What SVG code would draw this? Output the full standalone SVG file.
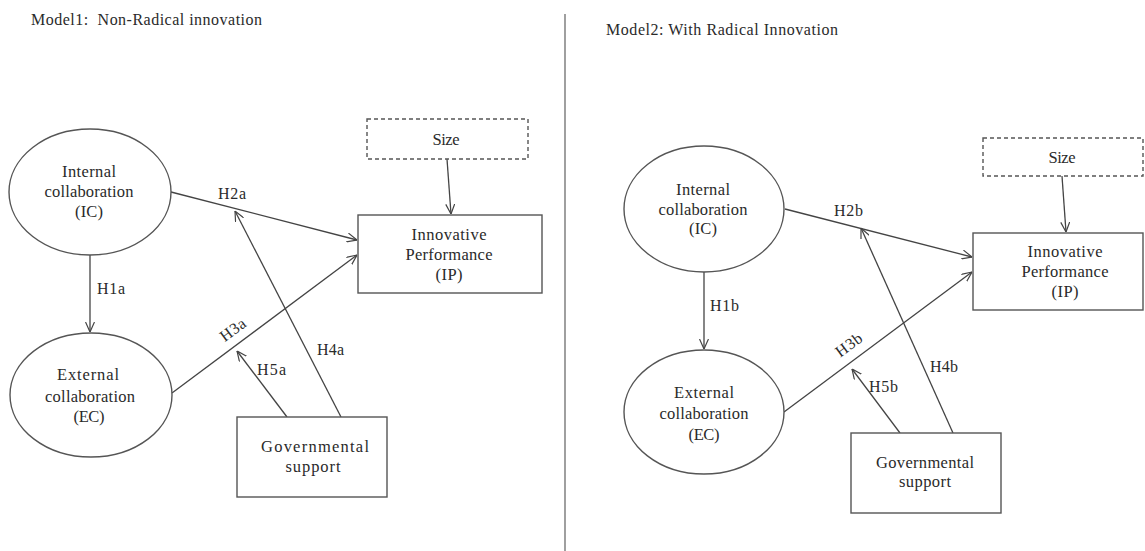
<svg xmlns="http://www.w3.org/2000/svg" width="1145" height="551" viewBox="0 0 1145 551">
  <defs>
    <marker id="arrow" viewBox="0 0 10 10" refX="10" refY="5" markerWidth="10" markerHeight="10" markerUnits="userSpaceOnUse" orient="auto">
      <path d="M0,0.5 L10,5 L0,9.5" fill="none" stroke="#444" stroke-width="1.2"/>
    </marker>
    <style>
      .shape { fill: #fff; stroke: #555; stroke-width: 1.4; }
      .dashed { fill: #fff; stroke: #555; stroke-width: 1.4; stroke-dasharray: 4 3; }
      .edge { fill: none; stroke: #444; stroke-width: 1.3; marker-end: url(#arrow); }
      .t { font-family: "Liberation Serif", "Times New Roman", serif; font-size: 16.5px; fill: #2a2a2a; text-anchor: middle; }
      .lbl { font-family: "Liberation Serif", "Times New Roman", serif; font-size: 16px; fill: #2a2a2a; }
      .title { font-family: "Liberation Serif", "Times New Roman", serif; font-size: 16px; fill: #2a2a2a; }
    </style>
  </defs>
  <rect width="1145" height="551" fill="#fff"/>

  <!-- panel titles and divider -->
  <text class="title" x="31" y="25" textLength="231" lengthAdjust="spacing" xml:space="preserve">Model1:  Non-Radical innovation</text>
  <text class="title" x="606" y="35" textLength="232" lengthAdjust="spacing">Model2: With Radical Innovation</text>
  <line x1="565" y1="14" x2="565" y2="551" stroke="#888" stroke-width="1.6"/>

  <!-- connectors -->
  <g id="connectors">
    <!-- model 1 -->
    <line class="edge" x1="90" y1="255" x2="90" y2="332"/>
    <line class="edge" x1="171" y1="192" x2="357" y2="240"/>
    <line class="edge" x1="172" y1="393" x2="357" y2="255"/>
    <line class="edge" x1="447" y1="159" x2="451" y2="214"/>
    <line class="edge" x1="341" y1="417" x2="235" y2="211"/>
    <line class="edge" x1="287" y1="417" x2="237" y2="351"/>
    <text class="lbl" x="97" y="294" textLength="28" lengthAdjust="spacing">H1a</text>
    <text class="lbl" x="218" y="199" textLength="28" lengthAdjust="spacing">H2a</text>
    <text class="lbl" x="233" y="335" text-anchor="middle" transform="rotate(-36.6 233 330)" textLength="28" lengthAdjust="spacing">H3a</text>
    <text class="lbl" x="317" y="355" textLength="27" lengthAdjust="spacing">H4a</text>
    <text class="lbl" x="257" y="375" textLength="29" lengthAdjust="spacing">H5a</text>
    <!-- model 2 -->
    <line class="edge" x1="704" y1="272" x2="704" y2="349"/>
    <line class="edge" x1="785" y1="209" x2="972" y2="257"/>
    <line class="edge" x1="784" y1="412" x2="972" y2="272"/>
    <line class="edge" x1="1062" y1="176" x2="1066" y2="232"/>
    <line class="edge" x1="953" y1="433" x2="861" y2="228"/>
    <line class="edge" x1="900" y1="433" x2="852" y2="369"/>
    <text class="lbl" x="710" y="311" textLength="29" lengthAdjust="spacing">H1b</text>
    <text class="lbl" x="834" y="216" textLength="29" lengthAdjust="spacing">H2b</text>
    <text class="lbl" x="849" y="350" text-anchor="middle" transform="rotate(-36.5 849 345)" textLength="29" lengthAdjust="spacing">H3b</text>
    <text class="lbl" x="930" y="372" textLength="28" lengthAdjust="spacing">H4b</text>
    <text class="lbl" x="869" y="392" textLength="29" lengthAdjust="spacing">H5b</text>
  </g>

  <!-- model 1 nodes -->
  <g id="ic1">
    <ellipse class="shape" cx="90" cy="192" rx="81" ry="63"/>
    <text class="t" x="89" y="177" textLength="54" lengthAdjust="spacing">Internal</text>
    <text class="t" x="89" y="197" textLength="89" lengthAdjust="spacing">collaboration</text>
    <text class="t" x="89" y="217" textLength="28" lengthAdjust="spacing">(IC)</text>
  </g>
  <g id="ec1">
    <ellipse class="shape" cx="91" cy="395" rx="81" ry="62"/>
    <text class="t" x="88" y="380" textLength="62" lengthAdjust="spacing">External</text>
    <text class="t" x="90" y="402" textLength="90" lengthAdjust="spacing">collaboration</text>
    <text class="t" x="89" y="422" textLength="31" lengthAdjust="spacing">(EC)</text>
  </g>
  <g id="size1">
    <rect class="dashed" x="367" y="119" width="161" height="40"/>
    <text class="t" x="446" y="145" textLength="27" lengthAdjust="spacing">Size</text>
  </g>
  <g id="ip1">
    <rect class="shape" x="358" y="215" width="184" height="78"/>
    <text class="t" x="449" y="240" textLength="75" lengthAdjust="spacing">Innovative</text>
    <text class="t" x="449" y="260" textLength="87" lengthAdjust="spacing">Performance</text>
    <text class="t" x="449" y="280" textLength="27" lengthAdjust="spacing">(IP)</text>
  </g>
  <g id="gov1">
    <rect class="shape" x="237" y="417" width="150" height="80"/>
    <text class="t" x="315" y="452" textLength="108" lengthAdjust="spacing">Governmental</text>
    <text class="t" x="313" y="472" textLength="55" lengthAdjust="spacing">support</text>
  </g>

  <!-- model 2 nodes -->
  <g id="ic2">
    <ellipse class="shape" cx="704" cy="209" rx="80" ry="63"/>
    <text class="t" x="703" y="195" textLength="54" lengthAdjust="spacing">Internal</text>
    <text class="t" x="703" y="215" textLength="89" lengthAdjust="spacing">collaboration</text>
    <text class="t" x="703" y="234" textLength="28" lengthAdjust="spacing">(IC)</text>
  </g>
  <g id="ec2">
    <ellipse class="shape" cx="704" cy="412" rx="80" ry="62"/>
    <text class="t" x="704" y="398" textLength="60" lengthAdjust="spacing">External</text>
    <text class="t" x="704" y="419" textLength="89" lengthAdjust="spacing">collaboration</text>
    <text class="t" x="704" y="440" textLength="31" lengthAdjust="spacing">(EC)</text>
  </g>
  <g id="size2">
    <rect class="dashed" x="983" y="138" width="160" height="38"/>
    <text class="t" x="1062" y="163" textLength="27" lengthAdjust="spacing">Size</text>
  </g>
  <g id="ip2">
    <rect class="shape" x="973" y="233" width="170" height="77"/>
    <text class="t" x="1065" y="257" textLength="75" lengthAdjust="spacing">Innovative</text>
    <text class="t" x="1065" y="277" textLength="87" lengthAdjust="spacing">Performance</text>
    <text class="t" x="1065" y="297" textLength="27" lengthAdjust="spacing">(IP)</text>
  </g>
  <g id="gov2">
    <rect class="shape" x="851" y="433" width="150" height="80"/>
    <text class="t" x="925" y="468" textLength="98" lengthAdjust="spacing">Governmental</text>
    <text class="t" x="925" y="487" textLength="52" lengthAdjust="spacing">support</text>
  </g>
</svg>
